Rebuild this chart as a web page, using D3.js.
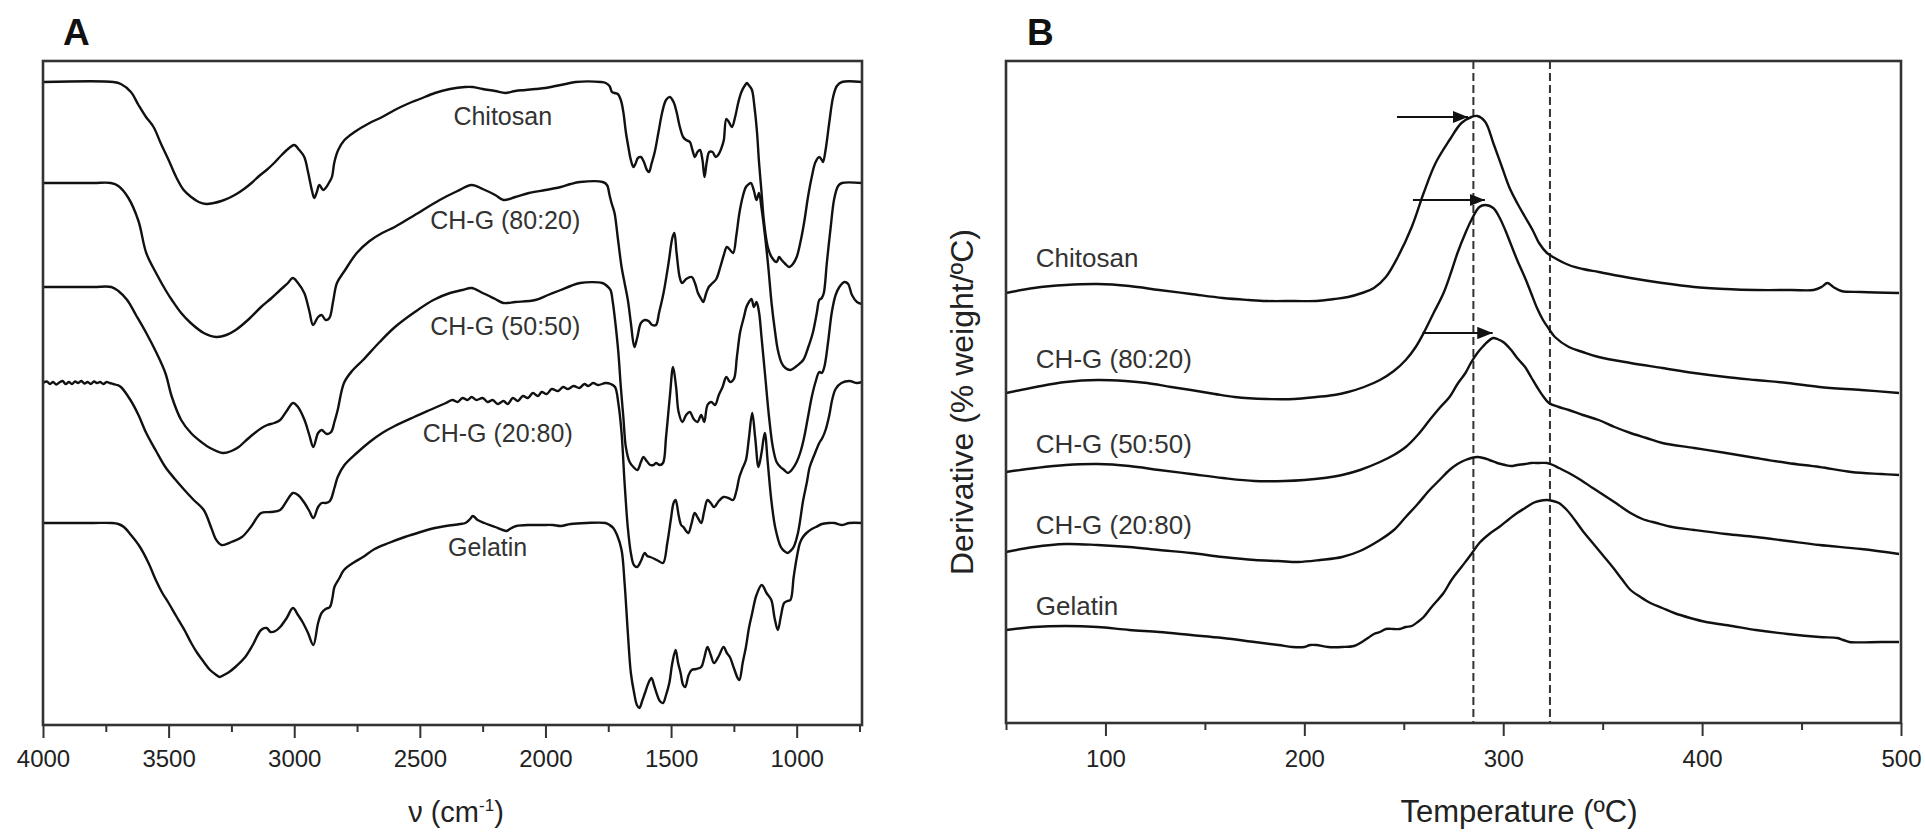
<!DOCTYPE html>
<html lang="en">
<head>
<meta charset="UTF-8">
<title>FTIR and DTG curves</title>
<script src="https://d3js.org/d3.v7.min.js"></script>
<style>
  body { margin: 0; background: #fff; }
  svg { display: block; font-family: "Liberation Sans", Arial, Helvetica, sans-serif; }
  .tick text { fill: #222; }
</style>
</head>
<body>
<div id="chart"></div>
<script>
const width = 1925;
const height = 832;

// ---------- panel A: FTIR spectra, [wavenumber, relative transmittance (a.u.)]
const ftirNames = ["Chitosan", "CH-G (80:20)", "CH-G (50:50)", "CH-G (20:80)", "Gelatin"];
const ftirOffsets = [643, 542, 438, 342, 202];

const chitosanFTIR = [[4000,0],[3720,0],[3690,-2],[3650,-10],[3620,-23],[3590,-35],[3560,-45],[3530,-62],[3500,-78],[3470,-95],[3440,-108],[3410,-115],[3380,-120],[3350,-122],[3320,-121],[3290,-119],[3260,-116],[3230,-112],[3200,-107],[3170,-101],[3140,-94],[3110,-88],[3080,-81],[3050,-73],[3020,-66],[3000,-63],[2980,-68],[2960,-75],[2945,-90],[2930,-108],[2920,-116],[2910,-110],[2900,-103],[2885,-108],[2875,-106],[2860,-100],[2850,-95],[2840,-80],[2825,-68],[2800,-58],[2760,-50],[2700,-41],[2650,-35],[2600,-28],[2550,-22],[2500,-17],[2440,-11],[2380,-7],[2320,-5],[2290,-5],[2250,-7],[2200,-9],[2160,-11],[2120,-9],[2080,-8],[2040,-7],[2000,-6],[1960,-4],[1920,-2],[1880,0],[1780,0],[1760,-1],[1745,-4],[1735,-10],[1725,-11],[1712,-12],[1700,-18],[1690,-30],[1680,-50],[1670,-65],[1660,-78],[1650,-85],[1642,-82],[1632,-76],[1620,-75],[1608,-80],[1596,-88],[1588,-90],[1578,-82],[1565,-70],[1550,-50],[1535,-30],[1520,-18],[1505,-15],[1490,-20],[1478,-30],[1465,-45],[1452,-55],[1440,-58],[1425,-60],[1415,-68],[1405,-75],[1395,-70],[1385,-68],[1375,-78],[1367,-95],[1358,-80],[1348,-70],[1335,-70],[1322,-75],[1310,-72],[1298,-65],[1290,-58],[1280,-37],[1270,-40],[1258,-45],[1245,-35],[1232,-20],[1220,-10],[1205,-3],[1198,-1],[1188,-4],[1178,-8],[1168,-25],[1158,-50],[1150,-80],[1140,-110],[1130,-140],[1115,-165],[1100,-175],[1080,-180],[1070,-175],[1060,-178],[1045,-182],[1030,-185],[1015,-182],[1000,-175],[985,-160],[970,-140],[955,-115],[940,-95],[925,-80],[910,-75],[900,-78],[895,-80],[885,-68],[870,-40],[855,-15],[840,-4],[820,0],[740,0]];

const chg8020FTIR = [[4000,0],[3800,0],[3730,0],[3700,-3],[3660,-15],[3620,-38],[3589,-70],[3550,-90],[3510,-108],[3487,-117],[3450,-130],[3412,-140],[3360,-150],[3310,-154],[3270,-152],[3233,-147],[3180,-136],[3132,-124],[3090,-115],[3056,-107],[3025,-100],[3006,-95],[2985,-100],[2960,-110],[2940,-128],[2925,-142],[2905,-134],[2891,-132],[2875,-137],[2860,-135],[2845,-118],[2830,-100],[2800,-88],[2751,-70],[2700,-58],[2650,-50],[2600,-44],[2520,-32],[2421,-17],[2350,-8],[2294,-2],[2250,-6],[2200,-12],[2167,-17],[2120,-14],[2066,-10],[2000,-7],[1939,-4],[1900,-1],[1863,1],[1772,1],[1755,-2],[1745,-12],[1737,-20],[1725,-30],[1712,-55],[1697,-84],[1685,-100],[1672,-117],[1660,-140],[1646,-164],[1635,-155],[1620,-140],[1605,-137],[1590,-138],[1575,-142],[1560,-142],[1548,-130],[1530,-110],[1510,-80],[1495,-55],[1487,-50],[1478,-70],[1465,-95],[1456,-100],[1440,-96],[1418,-94],[1405,-100],[1393,-110],[1380,-116],[1372,-119],[1360,-110],[1350,-104],[1335,-100],[1320,-96],[1304,-84],[1290,-72],[1278,-64],[1265,-67],[1253,-70],[1240,-52],[1228,-30],[1215,-14],[1202,-4],[1190,-1],[1182,0],[1170,-8],[1160,-17],[1150,-10],[1140,-25],[1125,-55],[1113,-84],[1100,-120],[1088,-145],[1075,-167],[1060,-180],[1045,-185],[1024,-187],[1000,-183],[974,-177],[955,-165],[936,-150],[920,-130],[910,-117],[900,-115],[892,-110],[880,-80],[865,-45],[850,-15],[835,-3],[820,0],[740,0]];

const chg5050FTIR = [[4000,0],[3800,0],[3728,0],[3700,-4],[3665,-13],[3630,-28],[3589,-46],[3550,-65],[3513,-86],[3487,-110],[3450,-133],[3411,-146],[3370,-155],[3335,-161],[3284,-166],[3250,-164],[3221,-160],[3190,-153],[3157,-146],[3130,-141],[3107,-138],[3080,-136],[3056,-133],[3030,-124],[3005,-116],[2985,-120],[2959,-133],[2940,-148],[2924,-160],[2905,-146],[2891,-143],[2870,-147],[2853,-145],[2840,-135],[2827,-123],[2802,-96],[2770,-84],[2726,-73],[2660,-55],[2599,-40],[2520,-25],[2446,-13],[2380,-6],[2330,-3],[2294,-1],[2250,-6],[2200,-12],[2167,-16],[2120,-15],[2040,-13],[1990,-8],[1939,-3],[1900,1],[1862,4],[1774,4],[1755,1],[1741,-3],[1732,-15],[1723,-33],[1710,-65],[1700,-100],[1690,-130],[1680,-160],[1665,-175],[1650,-180],[1634,-183],[1620,-175],[1610,-170],[1597,-174],[1583,-178],[1570,-178],[1560,-176],[1545,-178],[1532,-176],[1520,-150],[1505,-110],[1492,-80],[1480,-100],[1470,-125],[1455,-135],[1440,-128],[1425,-125],[1410,-132],[1395,-135],[1380,-128],[1368,-135],[1355,-118],[1340,-115],[1325,-118],[1310,-108],[1295,-100],[1280,-90],[1265,-95],[1250,-92],[1238,-70],[1225,-45],[1210,-30],[1200,-20],[1190,-15],[1180,-12],[1170,-20],[1160,-15],[1150,-25],[1140,-50],[1125,-90],[1110,-130],[1095,-160],[1080,-175],[1065,-180],[1050,-183],[1035,-186],[1020,-183],[1000,-175],[985,-165],[970,-150],[955,-130],[940,-110],[925,-95],[910,-85],[900,-86],[890,-80],[875,-55],[860,-25],[845,-8],[830,0],[810,5],[795,3],[780,-8],[760,-15],[740,-17]];

const chg2080FTIR = [[4000,0],[3985,1.5],[3972,-1],[3960,1],[3947,-1.5],[3935,0.5],[3922,2],[3910,-1],[3897,1],[3885,-1],[3872,1.5],[3860,0],[3847,2],[3835,-0.5],[3822,1],[3810,-1],[3797,1.5],[3785,0],[3772,1],[3760,-1],[3747,1],[3735,0],[3720,-1],[3705,-2],[3690,-4],[3652,-17],[3620,-32],[3589,-50],[3550,-68],[3513,-84],[3475,-96],[3437,-107],[3400,-117],[3360,-127],[3330,-145],[3310,-157],[3289,-162],[3250,-159],[3208,-154],[3170,-143],[3132,-130],[3094,-129],[3056,-127],[3030,-118],[3005,-110],[2985,-112],[2959,-120],[2940,-128],[2924,-135],[2905,-124],[2891,-120],[2875,-120],[2858,-118],[2840,-105],[2827,-94],[2800,-82],[2751,-70],[2700,-59],[2650,-50],[2600,-43],[2523,-34],[2460,-27],[2396,-20],[2370,-17],[2350,-19],[2330,-15],[2310,-17],[2294,-14],[2275,-17],[2250,-15],[2230,-19],[2210,-17],[2190,-21],[2167,-18],[2150,-21],[2130,-15],[2110,-18],[2090,-13],[2070,-15],[2050,-10],[2030,-13],[2015,-9],[1995,-11],[1975,-6],[1950,-8],[1930,-4],[1910,-6],[1888,-3],[1865,-5],[1845,-1],[1830,-3],[1810,0],[1790,-2],[1761,0],[1740,-1],[1723,-4],[1710,-20],[1697,-50],[1685,-100],[1672,-145],[1660,-170],[1648,-182],[1635,-184],[1620,-178],[1605,-170],[1595,-173],[1583,-174],[1565,-176],[1550,-178],[1532,-180],[1515,-160],[1500,-135],[1490,-120],[1482,-117],[1470,-132],[1460,-142],[1451,-144],[1440,-148],[1431,-150],[1418,-140],[1406,-130],[1393,-135],[1380,-140],[1368,-128],[1355,-117],[1342,-120],[1329,-124],[1310,-118],[1291,-114],[1272,-115],[1253,-117],[1240,-108],[1228,-94],[1215,-85],[1202,-77],[1190,-55],[1177,-30],[1165,-55],[1152,-84],[1140,-70],[1127,-50],[1115,-80],[1101,-117],[1085,-145],[1063,-164],[1050,-168],[1037,-170],[1025,-168],[1012,-164],[995,-150],[974,-117],[960,-100],[948,-84],[930,-72],[910,-60],[898,-55],[885,-47],[870,-32],[859,-17],[845,-6],[822,0],[790,2],[760,0],[740,1]];

const gelatinFTIR = [[4000,0],[3800,0],[3728,0],[3700,-1],[3678,-4],[3650,-12],[3614,-24],[3580,-40],[3551,-57],[3525,-70],[3500,-80],[3470,-93],[3437,-107],[3410,-120],[3386,-130],[3360,-139],[3335,-147],[3310,-152],[3297,-154],[3280,-152],[3259,-149],[3230,-143],[3195,-134],[3165,-122],[3132,-107],[3110,-105],[3094,-109],[3075,-108],[3056,-104],[3030,-95],[3005,-85],[2985,-92],[2967,-99],[2945,-110],[2924,-122],[2905,-100],[2891,-90],[2875,-86],[2858,-84],[2848,-75],[2840,-64],[2820,-55],[2802,-47],[2760,-39],[2726,-34],[2680,-26],[2624,-20],[2560,-14],[2497,-9],[2440,-5],[2396,-3],[2340,-1],[2319,0],[2300,4],[2289,7],[2270,3],[2243,0],[2200,-4],[2170,-7],[2155,-8],[2135,-5],[2116,-3],[2060,-2],[2015,-2],[1970,-2],[1939,-3],[1900,-1],[1837,0],[1761,0],[1745,-2],[1730,-5],[1715,-12],[1697,-27],[1685,-60],[1672,-110],[1660,-150],[1647,-170],[1636,-182],[1626,-185],[1615,-178],[1604,-170],[1590,-160],[1578,-155],[1568,-162],[1558,-170],[1545,-178],[1532,-180],[1520,-172],[1507,-160],[1495,-140],[1482,-127],[1472,-140],[1462,-150],[1452,-162],[1444,-164],[1430,-152],[1418,-147],[1400,-146],[1380,-144],[1368,-135],[1355,-124],[1342,-132],[1329,-140],[1310,-133],[1291,-124],[1278,-130],[1266,-134],[1250,-145],[1235,-155],[1228,-157],[1215,-140],[1202,-124],[1190,-105],[1177,-90],[1160,-72],[1139,-62],[1120,-70],[1101,-77],[1088,-95],[1075,-107],[1062,-92],[1050,-80],[1037,-78],[1025,-77],[1012,-54],[1000,-35],[987,-20],[975,-14],[961,-10],[940,-6],[923,-4],[900,-1],[872,0],[850,0],[822,-2],[790,0],[741,0]];

const ftirSeries = [chitosanFTIR, chg8020FTIR, chg5050FTIR, chg2080FTIR, gelatinFTIR];
// label anchor positions in data units [wavenumber, a.u.]
const ftirLabelPos = [[2170, 600], [2160, 496], [2160, 390], [2190, 283], [2230, 169]];
const ftirMajorTicks = [4000, 3500, 3000, 2500, 2000, 1500, 1000];
const ftirMinorTicks = [3750, 3250, 2750, 2250, 1750, 1250, 750];

// ---------- panel B: DTG curves, [temperature ºC, derivative (a.u.)]
const dtgNames = ["Chitosan", "CH-G (80:20)", "CH-G (50:50)", "CH-G (20:80)", "Gelatin"];
const dtgOffsets = [430, 330, 251, 171, 93];

const chitosanDTG = [[50,0],[64,5],[80,8],[96,9],[112,7],[127,3],[143,-1],[159,-5],[172,-7],[181,-8],[195,-8],[206,-8],[215,-6],[222,-4],[229,0],[235,5],[241,16],[247,36],[254,66],[260,100],[266,130],[273,153],[279,170],[284,176],[287,177],[291,171],[295,150],[299,128],[303,106],[307,90],[311,76],[315,62],[318,50],[322,40],[325,36],[333,28],[340,24],[348,21],[364,15],[380,10],[396,6],[412,4],[427,3],[445,3],[456,3],[460,6],[463,10],[466,6],[470,2],[480,1],[499,0]];

const chg8020DTG = [[50,0],[65,6],[80,11],[96,13],[110,12],[121,10],[133,6],[143,3],[155,-1],[165,-4],[181,-6],[195,-6],[206,-4],[215,-2],[222,1],[230,6],[238,13],[245,22],[251,33],[256,46],[260,60],[265,80],[270,100],[274,122],[277,140],[281,160],[284,173],[288,186],[291,188],[295,185],[298,176],[301,163],[304,148],[307,133],[311,115],[314,100],[317,85],[320,73],[323,64],[326,56],[333,46],[340,41],[348,36],[364,30],[380,25],[396,20],[412,16],[427,13],[443,10],[459,6],[480,3],[499,0]];

const chg5050DTG = [[50,0],[65,4],[80,7],[96,8],[112,6],[127,2],[143,-2],[159,-6],[175,-9],[190,-9],[200,-8],[210,-6],[219,-3],[228,2],[238,10],[245,17],[251,25],[257,37],[263,52],[268,64],[273,75],[277,88],[281,99],[284,110],[287,119],[290,126],[292,130],[295,134],[297,133],[300,130],[304,122],[307,114],[311,105],[314,95],[317,85],[320,76],[323,69],[328,65],[333,62],[340,57],[348,52],[356,45],[364,39],[372,34],[380,29],[396,24],[412,19],[427,14],[443,9],[459,5],[475,0],[490,-2],[499,-3]];

const chg2080DTG = [[50,0],[64,5],[80,8],[96,7],[112,5],[127,2],[143,-1],[159,-5],[175,-8],[187,-9],[197,-10],[208,-8],[219,-5],[228,1],[238,12],[245,22],[251,35],[257,48],[263,62],[268,72],[273,82],[277,88],[281,92],[287,95],[290,94],[293,92],[297,89],[301,87],[304,86],[307,87],[311,88],[314,89],[318,89],[322,89],[325,87],[328,84],[333,79],[339,72],[345,64],[352,55],[358,47],[364,39],[370,33],[377,29],[385,25],[396,22],[412,18],[427,15],[443,11],[459,7],[480,3],[499,-2]];

const gelatinDTG = [[50,0],[64,3],[80,4],[96,3],[112,0],[127,-2],[143,-5],[159,-8],[175,-12],[187,-15],[194,-17],[200,-17],[203,-15],[206,-15],[212,-17],[219,-17],[225,-16],[229,-12],[232,-8],[235,-4],[238,-2],[241,1],[245,1],[248,1],[251,3],[254,4],[257,8],[260,13],[264,23],[270,37],[274,50],[279,63],[284,76],[288,87],[293,96],[298,103],[303,111],[307,117],[311,122],[315,127],[318,129],[322,130],[325,129],[328,127],[332,120],[336,110],[340,99],[345,87],[350,75],[355,63],[360,50],[364,40],[369,33],[374,27],[380,22],[386,17],[394,12],[402,8],[415,4],[427,0],[443,-4],[459,-7],[468,-8],[471,-10],[474,-12],[490,-12],[499,-12]];

const dtgSeries = [chitosanDTG, chg8020DTG, chg5050DTG, chg2080DTG, gelatinDTG];
const dtgLabelPos = [[65, 456], [65, 355], [65, 270], [65, 189], [65, 108]];
const dtgMajorTicks = [100, 200, 300, 400, 500];
const dtgMinorTicks = [50, 150, 250, 350, 450];
// onset arrows: [start ºC, end ºC, level a.u.]
const dtgArrows = [[246.6, 282.3, 606], [254.6, 290.8, 523], [259.4, 294.7, 390]];
const dtgDashed = [285, 323.5];

// ---------- drawing
const svg = d3.select("#chart")
    .append("svg")
    .attr("width", width)
    .attr("height", height);

const defs = svg.append("defs");
defs.append("marker")
    .attr("id", "arrowhead")
    .attr("viewBox", "0 0 10 8")
    .attr("refX", 10)
    .attr("refY", 4)
    .attr("markerWidth", 7)
    .attr("markerHeight", 5.6)
    .attr("markerUnits", "strokeWidth")
    .attr("orient", "auto")
    .append("path")
    .attr("d", "M0,0 L10,4 L0,8 Z")
    .attr("fill", "#111");

const panelA = { left: 43, right: 862, top: 61, bottom: 725 };
const panelB = { left: 1006, right: 1901, top: 61, bottom: 723 };

const xA = d3.scaleLinear().domain([4000, 740]).range([panelA.left, panelA.right]);
const yA = d3.scaleLinear().domain([0, 664]).range([panelA.bottom, panelA.top]);
const xB = d3.scaleLinear().domain([50, 500]).range([panelB.left, panelB.right]);
const yB = d3.scaleLinear().domain([0, 662]).range([panelB.bottom, panelB.top]);

function addClip(id, p) {
    defs.append("clipPath").attr("id", id)
        .append("rect")
        .attr("x", p.left).attr("y", p.top)
        .attr("width", p.right - p.left).attr("height", p.bottom - p.top);
}
addClip("clipA", panelA);
addClip("clipB", panelB);

function drawBottomAxis(scale, p, major, minor, padding) {
    svg.append("g")
        .attr("transform", `translate(0,${p.bottom})`)
        .call(d3.axisBottom(scale).tickValues(minor).tickSize(7).tickFormat(""))
        .call(g => g.select(".domain").remove())
        .call(g => g.selectAll("line").attr("stroke", "#333").attr("stroke-width", 2));
    svg.append("g")
        .attr("transform", `translate(0,${p.bottom})`)
        .call(d3.axisBottom(scale).tickValues(major).tickSize(13).tickPadding(padding).tickFormat(d3.format("d")))
        .call(g => g.select(".domain").remove())
        .call(g => g.selectAll("line").attr("stroke", "#333").attr("stroke-width", 2))
        .call(g => g.selectAll("text").attr("font-size", 24).attr("font-family", "Liberation Sans, Arial, sans-serif"));
}

function drawFrame(p) {
    svg.append("rect")
        .attr("x", p.left).attr("y", p.top)
        .attr("width", p.right - p.left).attr("height", p.bottom - p.top)
        .attr("fill", "none")
        .attr("stroke", "#333")
        .attr("stroke-width", 2.6);
}

// panel A curves
const lineA = (offset) => d3.line()
    .x(d => xA(d[0]))
    .y(d => yA(offset + d[1]))
    .curve(d3.curveCatmullRom.alpha(0.5));

const gA = svg.append("g").attr("clip-path", "url(#clipA)");
ftirSeries.forEach((s, i) => {
    gA.append("path")
        .datum(s)
        .attr("fill", "none")
        .attr("stroke", "#111")
        .attr("stroke-width", 2.4)
        .attr("stroke-linejoin", "round")
        .attr("d", lineA(ftirOffsets[i]));
});

svg.append("g").selectAll("text")
    .data(ftirNames)
    .enter()
    .append("text")
    .attr("x", (d, i) => xA(ftirLabelPos[i][0]))
    .attr("y", (d, i) => yA(ftirLabelPos[i][1]))
    .attr("text-anchor", "middle")
    .attr("font-size", 25)
    .attr("fill", "#333")
    .text(d => d);

drawFrame(panelA);
drawBottomAxis(xA, panelA, ftirMajorTicks, ftirMinorTicks, 12);

// panel B curves
const lineB = (offset) => d3.line()
    .x(d => xB(d[0]))
    .y(d => yB(offset + d[1]))
    .curve(d3.curveCatmullRom.alpha(0.5));

const gB = svg.append("g").attr("clip-path", "url(#clipB)");

gB.selectAll(".dashed")
    .data(dtgDashed)
    .enter()
    .append("line")
    .attr("x1", d => xB(d)).attr("x2", d => xB(d))
    .attr("y1", panelB.top).attr("y2", panelB.bottom)
    .attr("stroke", "#333")
    .attr("stroke-width", 2)
    .attr("stroke-dasharray", "8,4");

dtgSeries.forEach((s, i) => {
    gB.append("path")
        .datum(s)
        .attr("fill", "none")
        .attr("stroke", "#111")
        .attr("stroke-width", 2.4)
        .attr("stroke-linejoin", "round")
        .attr("d", lineB(dtgOffsets[i]));
});

gB.selectAll(".arrow")
    .data(dtgArrows)
    .enter()
    .append("line")
    .attr("x1", d => xB(d[0])).attr("x2", d => xB(d[1]))
    .attr("y1", d => yB(d[2])).attr("y2", d => yB(d[2]))
    .attr("stroke", "#111")
    .attr("stroke-width", 2.2)
    .attr("marker-end", "url(#arrowhead)");

svg.append("g").selectAll("text")
    .data(dtgNames)
    .enter()
    .append("text")
    .attr("x", (d, i) => xB(dtgLabelPos[i][0]))
    .attr("y", (d, i) => yB(dtgLabelPos[i][1]))
    .attr("font-size", 26)
    .attr("fill", "#333")
    .text(d => d);

drawFrame(panelB);
drawBottomAxis(xB, panelB, dtgMajorTicks, dtgMinorTicks, 14);

// axis titles and panel letters
const titleA = svg.append("text")
    .attr("x", 456).attr("y", 822)
    .attr("text-anchor", "middle")
    .attr("font-size", 29)
    .attr("fill", "#222");
titleA.append("tspan").text("\u03bd (cm");
titleA.append("tspan").attr("dy", -11).attr("font-size", 17).text("-1");
titleA.append("tspan").attr("dy", 11).text(")");

svg.append("text")
    .attr("x", 1519).attr("y", 822)
    .attr("text-anchor", "middle")
    .attr("font-size", 31)
    .attr("fill", "#222")
    .text("Temperature (ºC)");

svg.append("text")
    .attr("transform", "translate(973,402) rotate(-90)")
    .attr("text-anchor", "middle")
    .attr("font-size", 32)
    .attr("fill", "#222")
    .text("Derivative (% weight/ºC)");

svg.append("text")
    .attr("x", 63).attr("y", 45)
    .attr("font-size", 37)
    .attr("font-weight", "bold")
    .attr("fill", "#111")
    .text("A");

svg.append("text")
    .attr("x", 1027).attr("y", 45)
    .attr("font-size", 37)
    .attr("font-weight", "bold")
    .attr("fill", "#111")
    .text("B");
</script>
</body>
</html>
